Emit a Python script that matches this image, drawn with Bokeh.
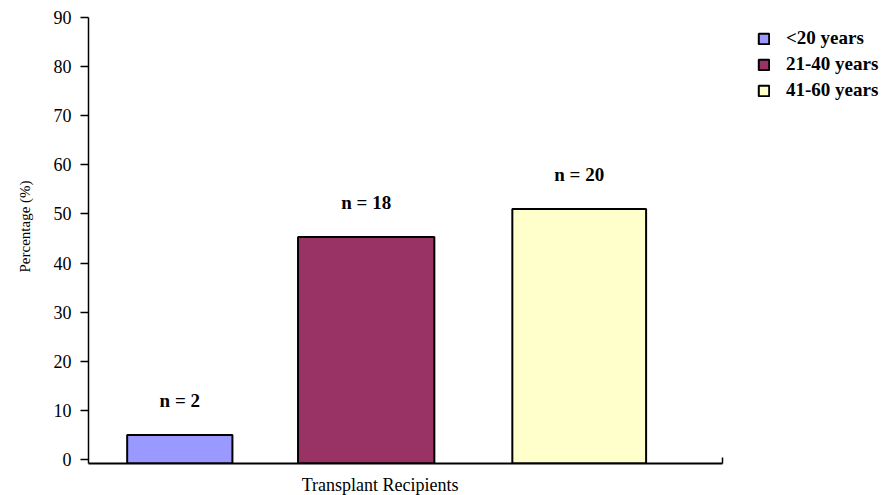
from bokeh.plotting import figure
from bokeh.models import (ColumnDataSource, Range1d, Legend, LegendItem, Title,
                          FixedTicker, LinearAxis)
from bokeh.embed import file_html
from bokeh.resources import INLINE
from bokeh.core.properties import value

# ---- data ----
groups = ["<20 years", "21-40 years", "41-60 years"]
percentages = [5.0, 45.3, 51.0]
counts = ["n = 2", "n = 18", "n = 20"]
y_ticks = [0, 10, 20, 30, 40, 50, 60, 70, 80, 90]
x_title = "Transplant Recipients"
y_title = "Percentage (%)"

# ---- layout / style ----
colors = ["#9999FF", "#993366", "#FFFFCC"]
centers = [14.4, 43.8, 77.4]
widths = [16.6, 21.5, 21.1]
FONT = "Liberation Serif"
AXIS_PX = 634          # pixel length of the drawn x axis
FRAME_W = 800          # frame extends right to hold the legend
X_END = 100 * FRAME_W / AXIS_PX
Y0 = -0.8
X_TITLE_POS = 46

src = ColumnDataSource(dict(x=centers, w=widths, top=percentages, color=colors,
                            label=counts, group=groups))

p = figure(frame_width=FRAME_W, frame_height=446, output_backend="svg", toolbar_location=None,
           x_range=Range1d(0, X_END), y_range=Range1d(Y0, 90),
           min_border_left=88, min_border_top=17, min_border_bottom=0,
           min_border_right=0)
p.outline_line_color = None
p.grid.visible = False
p.background_fill_color = "white"

r = p.vbar(x="x", width="w", top="top", bottom=Y0, source=src,
           fill_color="color", line_color="black", line_width=2)

p.text(x="x", y="top", text="label", source=src, y_offset=-35,
       text_align="center", text_baseline="middle",
       text_font=value(FONT), text_font_style="bold", text_font_size="19px",
       text_color="black")

# y axis
ya = p.yaxis[0]
ya.ticker = FixedTicker(ticks=y_ticks)
ya.minor_tick_line_color = None
ya.major_tick_in = 0
ya.major_tick_out = 8
ya.major_tick_line_color = "black"
ya.major_tick_line_width = 1.5
ya.axis_line_width = 1.5
ya.axis_line_color = "black"
ya.major_label_text_font = FONT
ya.major_label_text_font_size = "18px"
ya.major_label_text_color = "black"
ya.major_label_standoff = 9

p.add_layout(Title(text=y_title, align="left", offset=191, standoff=32,
                   vertical_align="top",
                   text_font=FONT, text_font_style="normal", text_font_size="15px",
                   text_color="black"), "left")

# x axis (line drawn only along the category span)
xa = p.xaxis[0]
xa.bounds = (0, 100)
xa.ticker = FixedTicker(ticks=[100])
xa.major_label_overrides = {100: ""}
xa.minor_tick_line_color = None
xa.major_tick_in = 6
xa.major_tick_out = 0
xa.major_tick_line_width = 1.5
xa.major_tick_line_color = "black"
xa.major_label_standoff = 0
xa.axis_line_width = 2
xa.axis_line_color = "black"

# x title placed as a single label of a bare second axis
xt = LinearAxis(ticker=FixedTicker(ticks=[X_TITLE_POS]),
                major_label_overrides={X_TITLE_POS: x_title},
                axis_line_color=None, major_tick_line_color=None,
                minor_tick_line_color=None, major_label_standoff=5,
                major_label_text_font=FONT, major_label_text_font_size="18px",
                major_label_text_color="black")
p.add_layout(xt, "below")

items = [LegendItem(label=g, renderers=[r], index=i) for i, g in enumerate(groups)]
legend = Legend(items=items, location=(669, 362), margin=0, padding=0,
                spacing=4, label_standoff=16, glyph_width=13, glyph_height=13,
                label_text_font=FONT, label_text_font_style="bold",
                label_text_font_size="19px", label_text_color="black",
                border_line_color=None, background_fill_alpha=0,
                label_height=20)
p.add_layout(legend, "center")

open("out.html", "w").write(file_html(p, INLINE))
